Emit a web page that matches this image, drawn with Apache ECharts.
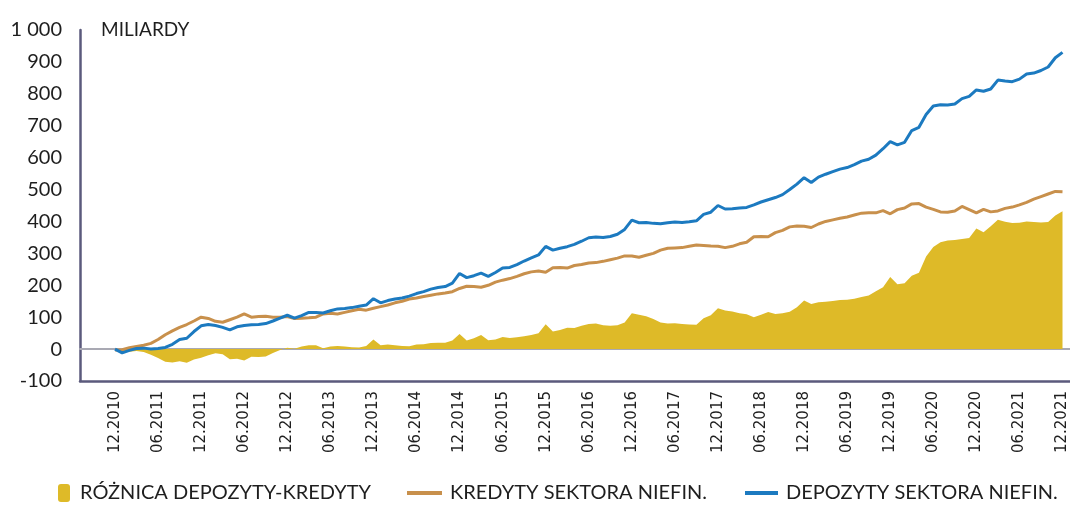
<!DOCTYPE html>
<html>
<head>
<meta charset="utf-8">
<script src="https://cdn.jsdelivr.net/npm/echarts@6/dist/echarts.min.js"></script>
<style>
  html, body { margin: 0; padding: 0; background: #ffffff; }
  #chart { width: 1070px; height: 505px; }
</style>
</head>
<body>
<div id="chart"></div>
<script>
// Monthly observations, 12.2010 – 12.2021 (PLN bn, cumulative change)
const startYear = 2010, startMonth = 12, monthCount = 133;
const months = [];
for (let k = 0; k < monthCount; k++) {
  const m0 = startMonth - 1 + k;
  const y = startYear + Math.floor(m0 / 12);
  const m = (m0 % 12) + 1;
  months.push((m < 10 ? '0' + m : '' + m) + '.' + y);
}

const yTicks = [-100, 0, 100, 200, 300, 400, 500, 600, 700, 800, 900, 1000];

const seriesNames = ['RÓŻNICA DEPOZYTY-KREDYTY', 'KREDYTY SEKTORA NIEFIN.', 'DEPOZYTY SEKTORA NIEFIN.'];

const deposits = [
  0, -12, -4, 2, 3, 0, 2, 5, 15, 30, 34, 55,
  73, 77, 74, 68, 60, 70, 74, 76, 77, 80, 88, 97,
  106, 97, 105, 115, 115, 113, 120, 126, 127, 130, 134, 138,
  158, 145, 152, 157, 160, 166, 174, 180, 188, 193, 196, 207,
  237, 224, 230, 238, 228, 240, 254, 256, 265, 276, 286, 295,
  322, 310, 316, 321, 328, 338, 349, 351, 350, 353, 360, 375,
  404, 396, 397, 394, 393, 396, 398, 397, 399, 402, 422, 429,
  450, 439, 440, 442, 444, 452, 461, 468, 475, 484, 500, 517,
  537, 522, 539, 548, 556, 564, 569, 578, 589, 595, 608, 628,
  650, 640, 648, 685, 695, 735, 762, 766, 765, 768, 785, 792,
  812, 808, 815, 843, 840, 838, 846, 862, 865, 873, 884, 913,
  930
];

const loans = [
  -3, -2, 4, 8, 12, 18, 30, 45, 57, 68, 77, 88,
  100, 96, 87, 84, 92, 100, 110, 100, 102, 103, 100, 100,
  102, 96, 97, 98, 100, 110, 112, 110, 115, 120, 125, 122,
  128, 133, 138, 145, 150, 157, 160, 165, 169, 173, 176, 180,
  190, 197, 196, 194, 200, 210, 216, 221, 228, 236, 242, 245,
  241, 255, 256, 254, 262, 265, 270, 271, 275, 280, 285, 292,
  292, 288, 294, 300, 310, 316, 317, 318, 322, 326, 325, 323,
  322, 318, 322, 330, 335, 352, 353, 352, 365, 372, 383, 386,
  385, 381, 392, 400, 405, 410, 414, 420, 426, 427, 427, 434,
  424, 437, 442, 455, 456, 445, 438, 430, 429, 433, 447, 437,
  427, 438, 430, 433, 441, 445, 452, 460, 470, 478, 486, 494,
  493
];

const gap = [
  0, -10, -8, -6, -9, -18, -28, -40, -42, -38, -43, -33,
  -27, -19, -13, -16, -32, -30, -36, -24, -25, -23, -12, -3,
  4, 1, 8, 12, 12, 3, 8, 10, 8, 6, 5, 10,
  30, 12, 14, 12, 10, 9, 14, 15, 19, 20, 20, 27,
  47, 27, 34, 44, 28, 30, 38, 35, 37, 40, 44, 50,
  78, 55, 60, 67, 66, 73, 79, 80, 75, 73, 75, 83,
  112, 108, 103, 94, 83, 80, 81, 79, 77, 76, 97, 106,
  128, 121, 118, 112, 109, 100, 108, 116, 110, 112, 117, 131,
  152, 141, 147, 148, 151, 154, 155, 158, 163, 168, 181, 194,
  226, 203, 206, 230, 239, 290, 320, 335, 340, 342, 345, 348,
  378, 366, 385, 405, 399, 395, 396, 400, 398, 397, 398, 419,
  432
];

const colGap = '#DEBA28';
const colLoans = '#C8904C';
const colDeposits = '#1C7AC0';
const axisDark = '#5B5A7C';
const textDark = '#1e1e1e';

const yMin = -100, yMax = 1000;
const gridTop = 30, gridBottom = 124;

const chart = echarts.init(document.getElementById('chart'), null, { renderer: 'canvas' });

const hiddenY = (gridIndex) => ({
  type: 'value', gridIndex, min: yMin, max: yMax, interval: 100,
  axisLine: { show: false }, axisTick: { show: false },
  axisLabel: { show: false }, splitLine: { show: false }
});

chart.setOption({
  backgroundColor: '#ffffff',
  animation: false,
  title: {
    text: 'MILIARDY', left: 96, top: 15,
    textStyle: { fontFamily: 'Lato', fontSize: 19, fontWeight: 'normal', color: textDark }
  },
  grid: [
    { left: 80, right: 0, top: gridTop, bottom: gridBottom },   // frame: axes and bottom line
    { left: 80, right: 0, top: gridTop, bottom: gridBottom },   // frame: zero line
    { left: 115, right: 6, top: gridTop, bottom: gridBottom }   // data
  ],
  xAxis: [
    {
      type: 'value', gridIndex: 0, min: 0, max: 1, position: 'bottom',
      axisLine: { onZero: false, lineStyle: { color: axisDark, width: 2.5 } },
      axisTick: { show: false }, axisLabel: { show: false }, splitLine: { show: false }
    },
    {
      type: 'value', gridIndex: 1, min: 0, max: 1,
      axisLine: { onZero: true, lineStyle: { color: '#A9A9B3', width: 2 } },
      axisTick: { show: false }, axisLabel: { show: false }, splitLine: { show: false }
    },
    {
      type: 'category', gridIndex: 2, data: months, boundaryGap: false,
      axisLine: { show: false, onZero: false }, axisTick: { show: false },
      splitLine: { show: false },
      axisLabel: {
        interval: 5, rotate: 90, margin: 10,
        fontFamily: 'DejaVu Sans', fontSize: 15, color: textDark
      }
    }
  ],
  yAxis: [
    {
      type: 'value', gridIndex: 0, min: yMin, max: yMax, interval: 100,
      axisLine: { show: true, lineStyle: { color: axisDark, width: 2.5 } },
      axisTick: { show: false }, splitLine: { show: false },
      axisLabel: {
        margin: 18, fontFamily: 'Lato', fontSize: 20, color: textDark,
        formatter: (v) => yTicks.includes(v) ? (v === 1000 ? '1 000' : String(v)) : ''
      }
    },
    hiddenY(1),
    hiddenY(2)
  ],
  legend: [
    {
      data: [{ name: seriesNames[0], icon: 'roundRect' }],
      left: 58, top: 483, itemWidth: 12, itemHeight: 18, padding: 0,
      textStyle: { fontFamily: 'Lato', fontSize: 20, color: textDark, padding: [0, 0, 0, 5], lineHeight: 20 }
    },
    {
      data: [{ name: seriesNames[1], icon: 'rect' }],
      left: 407, top: 483, itemWidth: 35, itemHeight: 4, padding: 0,
      textStyle: { fontFamily: 'Lato', fontSize: 20, color: textDark, padding: [0, 0, 0, 3], lineHeight: 20 }
    },
    {
      data: [{ name: seriesNames[2], icon: 'rect' }],
      left: 745, top: 483, itemWidth: 33, itemHeight: 4, padding: 0,
      textStyle: { fontFamily: 'Lato', fontSize: 20, color: textDark, padding: [0, 0, 0, 3], lineHeight: 20 }
    }
  ],
  series: [
    {
      name: seriesNames[0], type: 'line', xAxisIndex: 2, yAxisIndex: 2,
      data: gap, showSymbol: false, symbol: 'none',
      lineStyle: { width: 0 }, itemStyle: { color: colGap },
      areaStyle: { color: colGap, opacity: 1, origin: 0 }, z: 1
    },
    {
      name: seriesNames[1], type: 'line', xAxisIndex: 2, yAxisIndex: 2,
      data: loans, showSymbol: false, symbol: 'none',
      lineStyle: { width: 3, color: colLoans }, itemStyle: { color: colLoans }, z: 3
    },
    {
      name: seriesNames[2], type: 'line', xAxisIndex: 2, yAxisIndex: 2,
      data: deposits, showSymbol: false, symbol: 'none',
      lineStyle: { width: 3, color: colDeposits }, itemStyle: { color: colDeposits }, z: 4
    }
  ]
});
</script>
</body>
</html>
